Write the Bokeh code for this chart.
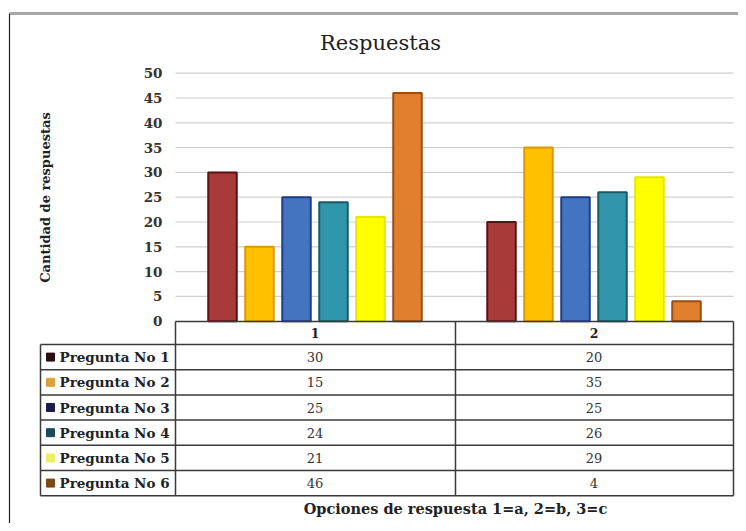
from bokeh.plotting import figure
from bokeh.models import Range1d
from bokeh.core.properties import value
from bokeh.embed import file_html
from bokeh.resources import INLINE

# ---- data ----
categories = ["1", "2"]
series = ["Pregunta No 1", "Pregunta No 2", "Pregunta No 3",
          "Pregunta No 4", "Pregunta No 5", "Pregunta No 6"]
p1 = [30, 20]
p2 = [15, 35]
p3 = [25, 25]
p4 = [24, 26]
p5 = [21, 29]
p6 = [46, 4]
values = [p1, p2, p3, p4, p5, p6]
y_ticks = [0, 5, 10, 15, 20, 25, 30, 35, 40, 45, 50]
title_text = "Respuestas"
y_title = "Cantidad de respuestas"
x_title = "Opciones de respuesta 1=a, 2=b, 3=c"

fills = ["#a83a3a", "#ffc000", "#4474c0", "#3196ab", "#ffff00", "#e0802f"]
edges = ["#5c1212", "#d99a00", "#1f3f85", "#185a68", "#e6e600", "#9c4d12"]
keys = ["#2b0d12", "#dba23c", "#1c1c4c", "#1c4a58", "#eeee66", "#7a4a18"]

FONT = value("DejaVu Serif")

# ---- pixel helpers (layout only) ----
W, H = 738, 523
X0, XPU = 175.0, 279.0     # x px of category 0 boundary, px per category
Y0, YPU = 320.7, 4.96      # y px of value 0, px per unit


def X(px):
    return (px - X0) / XPU


def Y(px):
    return (Y0 - px) / YPU


p = figure(width=W, height=H, output_backend="svg", toolbar_location=None,
           x_axis_location=None, y_axis_location=None, title=None,
           min_border=0, tools="")
p.x_range = Range1d(X(0), X(W))
p.y_range = Range1d(Y(H), Y(0))
p.xgrid.visible = False
p.ygrid.visible = False
p.outline_line_color = None
p.background_fill_color = "white"
p.border_fill_color = "white"

# outer border
p.line([X(9), X(745)], [Y(13), Y(13)], line_color="#a8a8a8", line_width=3)
p.line([X(9), X(9)], [Y(13), Y(531)], line_color="#222222", line_width=1.2)

# title
p.text([X(380)], [Y(42)], text=[title_text], text_font=FONT,
       text_font_size="21px", text_align="center", text_baseline="middle",
       text_color="#222222")

# grid lines
ncat = len(categories)
grid_y = [t for t in y_ticks if t > 0]
p.segment(x0=[0] * len(grid_y), x1=[ncat] * len(grid_y), y0=grid_y, y1=grid_y,
          line_color="#cfcfcf", line_width=1.2)

# y tick labels
p.text([X(162)] * len(y_ticks), y_ticks, text=[str(t) for t in y_ticks],
       text_font=FONT, text_font_size="13.5px", text_font_style="bold",
       text_align="right", text_baseline="middle", text_color="#333333")

# y title
p.text([X(45)], [Y(197)], text=[y_title], text_font=FONT,
       text_font_size="13px", text_font_style="bold", angle=1.5708,
       text_align="center", text_baseline="middle", text_color="#222222")

# bars
pitch = 37.0 / XPU
bw = 28.5 / XPU
n = len(series)
for i, (vals, fc, ec) in enumerate(zip(values, fills, edges)):
    xs = [c + 0.5 + (i - (n - 1) / 2) * pitch for c in range(ncat)]
    p.vbar(x=xs, top=vals, bottom=0, width=bw, fill_color=fc,
           line_color=ec, line_width=2)

# ---- data table ----
LC = "#3a3a3a"
top_px = 321
head_px = 344
row_h = 25.2
rows_px = [head_px + row_h * k for k in range(n + 1)]
bottom_px = rows_px[-1]
# horizontal lines
p.line([X(175), X(733)], [Y(top_px), Y(top_px)], line_color=LC, line_width=1.5)
for rp in rows_px:
    p.line([X(40), X(733)], [Y(rp), Y(rp)], line_color=LC, line_width=1.5)
# vertical lines
for vx in [175, 455, 733]:
    p.line([X(vx), X(vx)], [Y(top_px), Y(bottom_px)], line_color=LC, line_width=1.5)
p.line([X(40), X(40)], [Y(head_px), Y(bottom_px)], line_color=LC, line_width=1.5)

# header labels
p.text([c + 0.5 for c in range(ncat)], [Y((top_px + head_px) / 2)] * ncat,
       text=categories, text_font=FONT, text_font_size="12.5px",
       text_font_style="bold", text_align="center", text_baseline="middle",
       text_color="#222222")

# rows
for i in range(n):
    cy = Y(rows_px[i] + row_h / 2)
    p.scatter([X(50)], [cy], marker="square", size=8, fill_color=keys[i],
              line_color=keys[i])
    p.text([X(59)], [cy], text=[series[i]], text_font=FONT,
           text_font_size="13.5px", text_font_style="bold", text_align="left",
           text_baseline="middle", text_color="#222222")
    p.text([c + 0.5 for c in range(ncat)], [cy] * ncat,
           text=[str(v) for v in values[i]], text_font=FONT,
           text_font_size="13px", text_align="center",
           text_baseline="middle", text_color="#333333")

# x title
p.text([X(455)], [Y(508)], text=[x_title], text_font=FONT,
       text_font_size="14.5px", text_font_style="bold", text_align="center",
       text_baseline="middle", text_color="#222222")

open("out.html", "w").write(file_html(p, INLINE))
